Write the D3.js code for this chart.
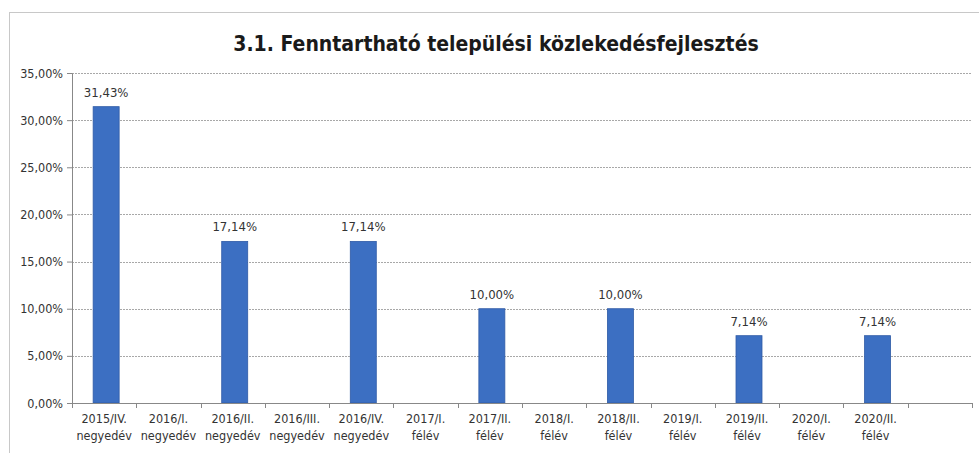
<!DOCTYPE html>
<html>
<head>
  <meta charset="utf-8">
  <title>3.1. Fenntartható települési közlekedésfejlesztés</title>
  <script src="https://d3js.org/d3.v7.min.js"></script>
  <style>
    body { margin: 0; background: #fff; }
    text { font-family: "Liberation Sans Narrow", "DejaVu Sans Condensed", "Liberation Sans", sans-serif; }
  </style>
</head>
<body>
  <div id="chart"></div>
  <script>
    // adatok
    var categories = [
      ["2015/IV.", "negyedév"], ["2016/I.", "negyedév"], ["2016/II.", "negyedév"],
      ["2016/III.", "negyedév"], ["2016/IV.", "negyedév"], ["2017/I.", "félév"],
      ["2017/II.", "félév"], ["2018/I.", "félév"], ["2018/II.", "félév"],
      ["2019/I.", "félév"], ["2019/II.", "félév"], ["2020/I.", "félév"],
      ["2020/II.", "félév"], ["", ""]
    ];
    var values = [31.43, 0, 17.14, 0, 17.14, 0, 10.00, 0, 10.00, 0, 7.14, 0, 7.14, 0];
    var yTicks = [0, 5, 10, 15, 20, 25, 30, 35];
    var title = "3.1. Fenntartható települési közlekedésfejlesztés";

    var W = 979, H = 453;
    var margin = { top: 73, right: 7, bottom: 50, left: 72 };
    var width = W - margin.left - margin.right;
    var height = H - margin.top - margin.bottom;

    var fmt = function (v) { return v.toFixed(2).replace(".", ",") + "%"; };

    var svg = d3.select("#chart").append("svg")
      .attr("width", W)
      .attr("height", H);

    // keret
    svg.append("rect")
      .attr("x", 9.5).attr("y", 12.5)
      .attr("width", W + 20).attr("height", H + 20)
      .attr("fill", "none")
      .attr("stroke", "#c8c8c8");

    svg.append("text")
      .attr("x", 496).attr("y", 51)
      .attr("text-anchor", "middle")
      .attr("font-size", 21)
      .attr("font-weight", "bold")
      .attr("fill", "#1a1a1a")
      .text(title);

    var g = svg.append("g")
      .attr("transform", "translate(" + margin.left + "," + margin.top + ")");

    var xSlot = d3.scaleBand()
      .domain(d3.range(categories.length))
      .range([0, width]);

    var y = d3.scaleLinear()
      .domain([0, 35])
      .range([height, 0]);

    // rácsvonalak
    g.selectAll(".grid")
      .data(yTicks.filter(function (d) { return d > 0; }))
      .join("line")
      .attr("class", "grid")
      .attr("x1", 0).attr("x2", width)
      .attr("y1", function (d) { return Math.round(y(d)) + 0.5; })
      .attr("y2", function (d) { return Math.round(y(d)) + 0.5; })
      .attr("stroke", "#a8a8a8")
      .attr("stroke-dasharray", "2,1");

    // oszlopok
    g.selectAll(".bar")
      .data(values)
      .join("rect")
      .attr("class", "bar")
      .attr("x", function (d, i) { return xSlot(i) + (xSlot.bandwidth() - 26) / 2 + 2; })
      .attr("y", function (d) { return y(d); })
      .attr("width", 26)
      .attr("height", function (d) { return height - y(d); })
      .attr("fill", "#3c6fc2")
      .attr("stroke", "#2f5ba6")
      .attr("stroke-width", 0.8)
      .style("display", function (d) { return d > 0 ? null : "none"; });

    // értékcímkék
    g.selectAll(".label")
      .data(values)
      .join("text")
      .attr("class", "label")
      .attr("x", function (d, i) { return xSlot(i) + xSlot.bandwidth() / 2 + 2; })
      .attr("y", function (d) { return y(d) - 10; })
      .attr("text-anchor", "middle")
      .attr("font-size", 13)
      .attr("fill", "#333")
      .text(function (d) { return d > 0 ? fmt(d) : ""; });

    // y tengely
    var yAxis = g.append("g")
      .call(d3.axisLeft(y).tickValues(yTicks).tickSize(5).tickFormat(fmt));
    yAxis.select(".domain").attr("stroke", "#888");
    yAxis.selectAll(".tick line").attr("stroke", "#888");
    yAxis.selectAll(".tick text")
      .attr("font-size", 12.5)
      .attr("fill", "#333")
      .attr("x", -9)
      .style("font-family", "'Liberation Sans Narrow', 'DejaVu Sans Condensed', sans-serif");

    // x tengely
    var xAxis = g.append("g")
      .attr("transform", "translate(0," + height + ")");
    xAxis.append("line")
      .attr("x1", 0).attr("x2", width)
      .attr("y1", 0.5).attr("y2", 0.5)
      .attr("stroke", "#888");
    xAxis.selectAll(".xtick")
      .data(d3.range(categories.length + 1))
      .join("line")
      .attr("class", "xtick")
      .attr("x1", function (d) { return Math.round(d * xSlot.step()) + 0.5; })
      .attr("x2", function (d) { return Math.round(d * xSlot.step()) + 0.5; })
      .attr("y1", 0).attr("y2", 5)
      .attr("stroke", "#888");

    var xl = xAxis.selectAll(".xlabel")
      .data(categories)
      .join("text")
      .attr("class", "xlabel")
      .attr("text-anchor", "middle")
      .attr("font-size", 12.5)
      .attr("fill", "#333")
      .attr("transform", function (d, i) { return "translate(" + (xSlot(i) + xSlot.bandwidth() / 2) + ",20)"; });
    xl.append("tspan").attr("x", 0).attr("dy", 0).text(function (d) { return d[0]; });
    xl.append("tspan").attr("x", 0).attr("dy", 17).text(function (d) { return d[1]; });
  </script>
</body>
</html>
